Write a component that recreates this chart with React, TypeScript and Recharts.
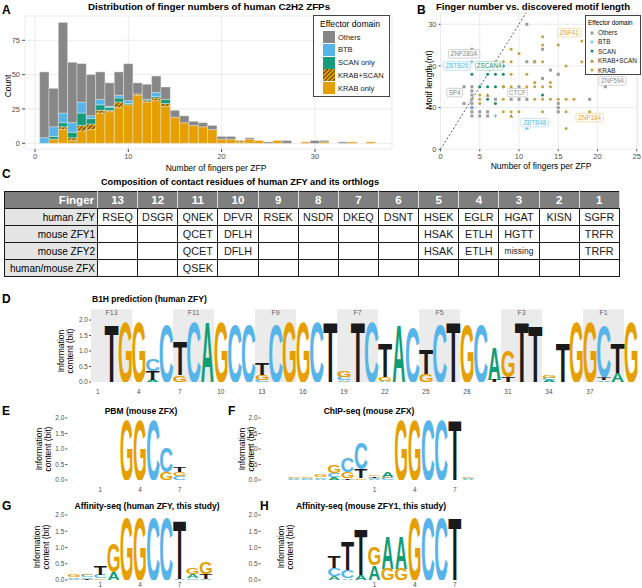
import React from 'react';
import {
  BarChart, Bar, XAxis, YAxis, CartesianGrid, ScatterChart, Scatter,
  ReferenceLine, ReferenceArea,
} from 'recharts';

const FONT = '"Liberation Sans", Arial, Helvetica, sans-serif';
const C_OTHERS = '#878787';
const C_BTB = '#56B4E9';
const C_SCAN = '#169C7B';
const C_KRAB = '#E69F00';
const AXIS_TXT = '#4D4D4D';

// ---------------- Panel A: finger-number histogram ----------------
const fingerNumbers = [1, 2, 3, 4, 5, 6, 7, 8, 9, 10, 11, 12, 13, 14, 15, 16, 17, 18, 19, 20, 21, 22, 23, 24, 25, 26, 27, 28, 29, 30, 31, 32, 33, 34, 35, 36];
const krabOnlyCounts = [0, 3, 10, 2, 9, 10, 22, 23, 26, 28, 35, 30, 31, 27, 19, 15, 13, 12, 10, 3, 3, 1, 3, 2, 0, 2, 0, 0, 1, 0, 1, 0, 0, 1, 0, 1];
const krabScanCounts = [0, 0, 2, 2, 4, 4, 2, 1, 4, 0, 1, 1, 2, 2, 0, 0, 0, 0, 0, 0, 0, 1, 0, 0, 0, 0, 0, 0, 0, 0, 0, 0, 0, 0, 0, 0];
const scanOnlyCounts = [0, 2, 3, 4, 9, 4, 4, 2, 3, 1, 0, 1, 1, 3, 0, 0, 0, 0, 0, 0, 0, 0, 0, 0, 0, 0, 0, 0, 0, 0, 0, 0, 0, 0, 0, 0];
const btbCounts = [4, 7, 7, 7, 8, 2, 4, 1, 2, 2, 0, 0, 3, 0, 0, 0, 0, 0, 0, 0, 0, 0, 0, 0, 0, 0, 0, 0, 0, 0, 0, 0, 0, 0, 0, 0];
const otherCounts = [48, 28, 66, 44, 28, 30, 20, 17, 17, 27, 8, 11, 12, 9, 5, 5, 3, 3, 3, 2, 2, 0, 1, 0, 1, 0, 2, 0, 0, 2, 1, 0, 1, 0, 0, 0];
const aXTicks = [0, 10, 20, 30];
const aYTicks = [0, 25, 50, 75];

// ---------------- Panel B: finger number vs motif length ----------------
const bOthers: [number, number][] = [[11, 30], [4, 24], [13, 24], [11, 21], [12, 21], [14, 19], [15, 18], [13, 17], [3, 15], [4, 15], [10, 15], [21, 15], [4, 14], [4, 13], [4, 12], [7, 12], [9, 12], [10, 12], [11, 12], [19, 12], [3, 11], [4, 11], [15, 11], [4, 10], [15, 10], [4, 9], [5, 9], [6, 9], [15, 9], [4, 8], [5, 8], [6, 8]];
const bBtb: [number, number][] = [[4, 21], [7, 8], [11, 5], [4, 10]];
const bScan: [number, number][] = [[4, 18], [6, 18], [7, 18], [8, 18], [5, 15], [6, 15], [7, 15], [8, 15], [8, 20], [6, 12], [7, 11], [13, 13]];
const bKrabScan: [number, number][] = [[6, 13], [9, 8]];
const bKrab: [number, number][] = [[13, 27], [13, 25], [15, 25], [18, 26], [9, 24], [10, 23], [7, 21], [8, 21], [9, 21], [12, 21], [13, 21], [18, 21], [16, 20], [9, 18], [11, 18], [12, 16], [14, 16], [8, 15], [9, 15], [11, 15], [12, 15], [13, 15], [14, 15], [5, 13], [5, 12], [5, 11], [8, 12], [12, 12], [13, 12], [14, 12], [15, 12], [16, 12], [17, 12], [8, 9], [9, 9], [10, 9], [13, 9], [16, 9], [19, 9], [16, 5]];
const bLabelNames = ['ZNF280A', 'ZBTB26', 'ZSCAN4', 'SP4', 'CTCF', 'ZBTB48', 'ZNF184', 'ZNF594', 'ZNF41'];
const bLabelCats = ['Others', 'BTB', 'SCAN', 'Others', 'Others', 'BTB', 'KRAB', 'Others', 'KRAB'];
const bLabelAnchors: [number, number][] = [[3.0, 22.9], [2.1, 20.0], [6.2, 20.0], [1.8, 13.6], [9.8, 13.6], [12.0, 6.4], [19.0, 7.6], [21.9, 16.4], [16.4, 28.0]];
const bXTicks = [0, 5, 10, 15, 20, 25];
const bYTicks = [0, 10, 20, 30];
const ntPerFinger = 3;

// ---------------- Panel C: table ----------------
const fingerIds = [13, 12, 11, 10, 9, 8, 7, 6, 5, 4, 3, 2, 1];
const rowNames = ['human ZFY', 'mouse ZFY1', 'mouse ZFY2', 'human/mouse ZFX'];
const humanZFY = ['RSEQ', 'DSGR', 'QNEK', 'DFVR', 'RSEK', 'NSDR', 'DKEQ', 'DSNT', 'HSEK', 'EGLR', 'HGAT', 'KISN', 'SGFR'];
const mouseZFY1 = ['', '', 'QCET', 'DFLH', '', '', '', '', 'HSAK', 'ETLH', 'HGTT', '', 'TRFR'];
const mouseZFY2 = ['', '', 'QCET', 'DFLH', '', '', '', '', 'HSAK', 'ETLH', 'missing', '', 'TRFR'];
const humanMouseZFX = ['', '', 'QSEK', '', '', '', '', '', '', '', '', '', ''];

// ---------------- Logos ----------------
type Stack = [string, number][];
const dPositions = [1, 2, 3, 4, 5, 6, 7, 8, 9, 10, 11, 12, 13, 14, 15, 16, 17, 18, 19, 20, 21, 22, 23, 24, 25, 26, 27, 28, 29, 30, 31, 32, 33, 34, 35, 36, 37, 38, 39, 40];
const dStacks: Stack[] = [
  [], [['T', 1.9]], [['G', 1.95]], [['G', 1.95]], [['A', 0.06], ['T', 0.28], ['C', 0.38]],
  [['C', 1.9]], [['G', 0.22], ['T', 1.1]], [['C', 1.95]], [['A', 1.95]], [['G', 1.95]],
  [['C', 1.9]], [['C', 1.9]], [['C', 0.07], ['G', 0.15], ['T', 0.4]], [['C', 1.9]], [['G', 1.95]],
  [['G', 1.95]], [['C', 1.95]], [['T', 1.95]], [['A', 0.05], ['C', 0.12], ['G', 0.22]], [['T', 1.95]],
  [['C', 1.95]], [['A', 0.04], ['G', 0.12], ['T', 1.1]], [['A', 1.9]], [['C', 1.78]], [['G', 0.25], ['T', 0.8]],
  [['C', 1.9]], [['T', 1.95]], [['G', 1.9]], [['C', 1.9]], [['T', 0.08], ['A', 1.05]],
  [['T', 0.15], ['G', 0.85]], [['T', 1.95]], [['T', 1.85]], [['A', 0.08], ['C', 0.06], ['G', 0.09]], [['T', 1.3]],
  [['G', 1.95]], [['G', 1.95]], [['A', 0.05], ['T', 0.1], ['C', 1.65]], [['A', 0.3], ['T', 1.0]], [['G', 1.95]],
];
const dTicks = [1, 4, 7, 10, 13, 16, 19, 22, 25, 28, 31, 34, 37];
const dBandStarts = [1, 7, 13, 19, 25, 31, 37];
const dBandEnds = [3, 9, 15, 21, 27, 33, 39];
const dBandLabels = ['F13', 'F11', 'F9', 'F7', 'F5', 'F3', 'F1'];

const egPositions = [-1, 0, 1, 2, 3, 4, 5, 6, 7, 8, 9];
const eStacks: Stack[] = [
  [], [], [], [], [['G', 1.95]], [['G', 1.95]], [['C', 1.95]], [['G', 0.27], ['C', 0.8]],
  [['C', 0.13], ['G', 0.12], ['T', 0.15]], [], [],
];
const gStacks: Stack[] = [
  [['A', 0.04], ['C', 0.05], ['G', 0.07]], [['T', 0.03], ['A', 0.05], ['C', 0.07], ['G', 0.05]],
  [['G', 0.05], ['C', 0.1], ['T', 0.3]], [['A', 0.25], ['G', 0.88]], [['G', 1.95]], [['G', 1.95]],
  [['C', 1.95]], [['C', 1.95]], [['A', 0.03], ['T', 1.85]], [['C', 0.05], ['A', 0.12], ['G', 0.21]],
  [['A', 0.04], ['T', 0.14], ['G', 0.36]],
];
const fhPositions = [-7, -6, -5, -4, -3, -2, -1, 0, 1, 2, 3, 4, 5, 6, 7, 8];
const fStacks: Stack[] = [
  [], [], [['C', 0.04], ['A', 0.04], ['G', 0.05]], [['C', 0.04], ['A', 0.03], ['G', 0.05]],
  [['A', 0.04], ['C', 0.05], ['G', 0.08]], [['A', 0.1], ['C', 0.12], ['G', 0.26]],
  [['T', 0.05], ['G', 0.22], ['C', 0.48]], [['G', 0.05], ['T', 0.3], ['C', 0.84]],
  [['A', 0.04], ['C', 0.04], ['T', 0.04], ['G', 0.04]], [['C', 0.06], ['G', 0.05], ['A', 0.17]],
  [['G', 1.95]], [['G', 1.95]], [['C', 1.95]], [['C', 1.95]], [['T', 1.95]],
  [['A', 0.03], ['C', 0.04], ['G', 0.05]],
];
const hStacks: Stack[] = [
  [], [], [], [], [], [['A', 0.12], ['C', 0.25], ['T', 0.35]], [['A', 0.05], ['C', 0.25], ['T', 0.9]],
  [['A', 0.15], ['T', 1.42]], [['A', 0.45], ['G', 0.58]], [['G', 0.35], ['A', 1.03]],
  [['G', 0.35], ['A', 1.03]], [['G', 1.98]], [['C', 1.98]], [['C', 1.98]], [['T', 1.98]], [],
];
const smallTicks = [1, 4, 7];
const bitTicks = [0, 0.5, 1, 1.5, 2];

const LETTER_COLORS: Record<string, string> = { A: '#109E76', C: '#56B4E9', G: '#E69F00', T: '#1A1A1A' };
const INK: Record<string, [number, number]> = { A: [0.0, 1.0], C: [0.06, 0.88], G: [0.055, 0.885], T: [0.035, 0.93] };
const CAP = 0.716;

function letterShape(k: number) {
  return (props: any) => {
    const { x, y, width, height, payload } = props;
    const L = payload ? payload['l' + k] : '';
    if (!L || !height || height < 0.15) return <g />;
    const pad = width * 0.03;
    const w = width - 2 * pad;
    const [off, frac] = INK[L];
    const adv = w / frac;
    const fs = 10;
    const sy = height / (fs * CAP);
    return (
      <g transform={`translate(${x + pad - off * adv},${y + height}) scale(1,${sy})`}>
        <text x={0} y={0} fontSize={fs} fontFamily={FONT} fontWeight={700}
          fill={LETTER_COLORS[L]} textLength={adv} lengthAdjust="spacingAndGlyphs">{L}</text>
      </g>
    );
  };
}

function buildRows(positions: number[], stacks: Stack[]) {
  return positions.map((pos, i) => {
    const row: any = { pos };
    const st = stacks[i] || [];
    for (let k = 0; k < 4; k++) {
      row['h' + k] = st[k] ? st[k][1] : 0;
      row['l' + k] = st[k] ? st[k][0] : '';
    }
    return row;
  });
}

function Logo(p: any) {
  const { positions, stacks, left, top, width, height, margin, yMax, xTicks, xHeight, xTickSize = 6, bands } = p;
  const rows = buildRows(positions, stacks);
  return (
    <div style={{ position: 'absolute', left, top }}>
      <BarChart width={width} height={height} data={rows} margin={margin} barCategoryGap={0} barGap={0}>
        {bands ? bands.map((b: any) => (
          <ReferenceArea key={b.label} x1={b.from} x2={b.to} y1={0} y2={yMax} fill="#EBEBEB" fillOpacity={1}
            stroke="none" ifOverflow="visible"
            label={{ value: b.label, position: 'insideTop', fontSize: 7, fill: '#666', fontFamily: FONT, offset: 1 }} />
        )) : null}
        <XAxis dataKey="pos" type="category" ticks={xTicks} interval={0} axisLine={false} tickLine={false}
          height={xHeight} tickSize={xTickSize} tickMargin={1} tick={{ fontSize: 6.5, fill: AXIS_TXT, fontFamily: FONT }} />
        <YAxis type="number" domain={[0, yMax]} ticks={bitTicks} allowDataOverflow width={18}
          tickFormatter={(v: number) => v.toFixed(1)} axisLine={false} tickSize={2} tickMargin={1}
          tickLine={{ stroke: AXIS_TXT }} tick={{ fontSize: 6.5, fill: AXIS_TXT, fontFamily: FONT }} />
        {[0, 1, 2, 3].map((k) => (
          <Bar key={k} dataKey={'h' + k} stackId="s" shape={letterShape(k)} isAnimationActive={false} />
        ))}
      </BarChart>
    </div>
  );
}

function Txt(p: any) {
  const { x, y, s = 8.5, b = false, a = 'middle', c = '#000', r = 0, children, lh = 1 } = p;
  const tx = a === 'middle' ? '-50%' : a === 'end' ? '-100%' : '0';
  return (
    <div style={{
      position: 'absolute', left: x, top: y, fontSize: s, fontWeight: b ? 700 : 400, color: c,
      whiteSpace: 'pre', lineHeight: lh, textAlign: 'center',
      transform: `translate(${tx},-50%)${r ? ` rotate(${r}deg)` : ''}`,
    }}>{children}</div>
  );
}

const sqShape = (p: any) => <rect x={p.cx - 1.5} y={p.cy - 1.5} width={3} height={3} fill="#9B9B9B" />;
const plusShape = (p: any) => <path d={`M${p.cx - 2},${p.cy}H${p.cx + 2}M${p.cx},${p.cy - 2}V${p.cy + 2}`} stroke={C_BTB} strokeWidth={0.8} />;
const scanShape = (p: any) => <circle cx={p.cx} cy={p.cy} r={1.5} fill="#1B8A6B" />;
const triShape = (p: any) => <path d={`M${p.cx},${p.cy - 2}L${p.cx + 2},${p.cy + 1.6}L${p.cx - 2},${p.cy + 1.6}Z`} fill="#B5873A" />;
const krabShape = (p: any) => <circle cx={p.cx} cy={p.cy} r={1.5} fill="#C9A03E" />;

const CAT_TEXT: Record<string, string> = { Others: '#8A8A8A', BTB: '#56B4E9', SCAN: '#178A6C', KRAB: '#E0A030' };
const CAT_BORDER: Record<string, string> = { Others: '#BDBDBD', BTB: '#A9D6F2', SCAN: '#8CCBB8', KRAB: '#F0CF8A' };
const labelShape = (p: any) => {
  const { cx, cy, payload } = p;
  const w = payload.name.length * 3.9 + 4;
  const h = 8.5;
  return (
    <g>
      <rect x={cx - w / 2} y={cy - h / 2} width={w} height={h} rx={1.5} fill="#fff" stroke={CAT_BORDER[payload.cat]} strokeWidth={0.7} />
      <text x={cx} y={cy + 2.3} textAnchor="middle" fontSize={6.3} fill={CAT_TEXT[payload.cat]} fontFamily={FONT}>{payload.name}</text>
    </g>
  );
};

const toPts = (arr: [number, number][]) => arr.map(([x, y]) => ({ x, y }));

function PanelA() {
  const rows = fingerNumbers.map((x, i) => ({
    x, krab: krabOnlyCounts[i], krabScan: krabScanCounts[i], scan: scanOnlyCounts[i], btb: btbCounts[i], others: otherCounts[i],
  }));
  const barProps = { stackId: 'a', barSize: 9.3, stroke: '#EDEDED', strokeWidth: 0.4, isAnimationActive: false };
  return (
    <div style={{ position: 'absolute', left: 0, top: 0 }}>
      <BarChart width={400} height={175} data={rows} margin={{ top: 16, right: 8, bottom: 6, left: 0 }} barCategoryGap={0} barGap={0}>
        <defs>
          <pattern id="hatchKS" patternUnits="userSpaceOnUse" width={3} height={3} patternTransform="rotate(45)">
            <rect width={3} height={3} fill={C_KRAB} />
            <line x1={0} y1={0} x2={0} y2={3} stroke="#000" strokeWidth={1.3} />
          </pattern>
        </defs>
        <CartesianGrid stroke="#EBEBEB" />
        <XAxis type="number" dataKey="x" domain={[-1.07, 38.26]} ticks={aXTicks} allowDataOverflow height={20}
          tickSize={3} axisLine={false} tickLine={{ stroke: AXIS_TXT }} tick={{ fontSize: 7.5, fill: AXIS_TXT, fontFamily: FONT }} />
        <YAxis type="number" domain={[-4.15, 92.7]} ticks={aYTicks} allowDataOverflow width={25}
          tickSize={3} axisLine={false} tickLine={{ stroke: AXIS_TXT }} tick={{ fontSize: 7.5, fill: AXIS_TXT, fontFamily: FONT }} />
        <Bar dataKey="krab" fill={C_KRAB} {...barProps} />
        <Bar dataKey="krabScan" fill="url(#hatchKS)" {...barProps} />
        <Bar dataKey="scan" fill={C_SCAN} {...barProps} />
        <Bar dataKey="btb" fill={C_BTB} {...barProps} />
        <Bar dataKey="others" fill={C_OTHERS} {...barProps} />
      </BarChart>
    </div>
  );
}

function PanelB() {
  const labels = bLabelNames.map((name, i) => ({ name, cat: bLabelCats[i], x: bLabelAnchors[i][0], y: bLabelAnchors[i][1] }));
  const yTop = 32.7;
  return (
    <div style={{ position: 'absolute', left: 420, top: 0 }}>
      <ScatterChart width={222} height={175} margin={{ top: 13, right: 4, bottom: 5.7, left: 4.5 }}>
        <CartesianGrid stroke="#EBEBEB" />
        <XAxis type="number" dataKey="x" domain={[0, 25.16]} ticks={bXTicks} allowDataOverflow height={20}
          tickSize={2} axisLine={false} tickLine={{ stroke: AXIS_TXT }} tick={{ fontSize: 7.5, fill: AXIS_TXT, fontFamily: FONT }} />
        <YAxis type="number" dataKey="y" domain={[0, yTop]} ticks={bYTicks} allowDataOverflow width={16}
          tickSize={2} axisLine={false} tickLine={{ stroke: AXIS_TXT }} tick={{ fontSize: 7.5, fill: AXIS_TXT, fontFamily: FONT }} />
        <ReferenceLine segment={[{ x: 0, y: 0 }, { x: yTop / ntPerFinger, y: yTop }]} stroke="#333" strokeDasharray="2 2" strokeWidth={0.8} />
        <Scatter data={toPts(bOthers)} shape={sqShape} isAnimationActive={false} />
        <Scatter data={toPts(bBtb)} shape={plusShape} isAnimationActive={false} />
        <Scatter data={toPts(bScan)} shape={scanShape} isAnimationActive={false} />
        <Scatter data={toPts(bKrabScan)} shape={triShape} isAnimationActive={false} />
        <Scatter data={toPts(bKrab)} shape={krabShape} isAnimationActive={false} />
        <Scatter data={labels} shape={labelShape} isAnimationActive={false} />
      </ScatterChart>
    </div>
  );
}

function LegendA() {
  const items: [string, string][] = [['Others', C_OTHERS], ['BTB', C_BTB], ['SCAN only', C_SCAN], ['KRAB+SCAN', 'hatch'], ['KRAB only', C_KRAB]];
  return (
    <div style={{ position: 'absolute', left: 313, top: 15, width: 77, height: 82, border: '1px solid #444', background: '#fff', boxSizing: 'border-box' }}>
      <div style={{ position: 'absolute', left: 6, top: 3, fontSize: 8.6 }}>Effector domain</div>
      {items.map(([name, col], i) => (
        <div key={name} style={{ position: 'absolute', left: 9, top: 15 + i * 12.8, height: 12, display: 'flex', alignItems: 'center' }}>
          <svg width={12} height={12} style={{ display: 'block' }}>
            <defs>
              <pattern id={'hl' + i} patternUnits="userSpaceOnUse" width={3} height={3} patternTransform="rotate(45)">
                <rect width={3} height={3} fill={C_KRAB} />
                <line x1={0} y1={0} x2={0} y2={3} stroke="#000" strokeWidth={1.3} />
              </pattern>
            </defs>
            <rect x={0} y={0} width={12} height={12} fill={col === 'hatch' ? `url(#hl${i})` : col} />
          </svg>
          <span style={{ fontSize: 7.5, marginLeft: 3, color: '#1a1a1a' }}>{name}</span>
        </div>
      ))}
    </div>
  );
}

function LegendB() {
  const items = ['Others', 'BTB', 'SCAN', 'KRAB+SCAN', 'KRAB'];
  const shapes = [sqShape, plusShape, scanShape, triShape, krabShape];
  return (
    <div style={{ position: 'absolute', left: 585, top: 15, width: 56, height: 60, border: '1px solid #444', background: '#fff', boxSizing: 'border-box' }}>
      <div style={{ position: 'absolute', left: 2, top: 3, fontSize: 6.4 }}>Effector domain</div>
      {items.map((name, i) => (
        <div key={name} style={{ position: 'absolute', left: 2, top: 12 + i * 9.4, height: 9, display: 'flex', alignItems: 'center' }}>
          <svg width={8} height={8} style={{ display: 'block' }}>{shapes[i]({ cx: 4, cy: 4 })}</svg>
          <span style={{ fontSize: 6.4, marginLeft: 2, color: '#1a1a1a' }}>{name}</span>
        </div>
      ))}
    </div>
  );
}

function PanelC() {
  const rows = [humanZFY, mouseZFY1, mouseZFY2, humanMouseZFX];
  const bd = '1px solid #1a1a1a';
  return (
    <div style={{ position: 'absolute', left: 4, top: 191 }}>
      <table style={{ borderCollapse: 'collapse', width: 615, tableLayout: 'fixed', fontFamily: FONT }}>
        <colgroup>
          <col style={{ width: 93 }} />
          {fingerIds.map((f) => <col key={f} style={{ width: 40.15 }} />)}
        </colgroup>
        <tbody>
          <tr style={{ height: 17 }}>
            <th style={{ background: '#7F7F7F', color: '#fff', fontSize: 11.5, textAlign: 'right', padding: '0 3px 0 0', border: bd, borderRight: '1px solid #ddd' }}>Finger</th>
            {fingerIds.map((f) => (
              <th key={f} style={{ background: '#7F7F7F', color: '#fff', fontSize: 11.5, padding: 0, borderTop: bd, borderBottom: bd, borderLeft: '1px solid #ddd', borderRight: '1px solid #ddd' }}>{f}</th>
            ))}
          </tr>
          {rows.map((r, ri) => (
            <tr key={ri} style={{ height: 17 }}>
              <td style={{ background: '#E5E5E5', fontSize: 10, textAlign: 'right', border: bd, whiteSpace: 'nowrap', padding: '0 2px 0 0' }}>{rowNames[ri]}</td>
              {r.map((v, ci) => (
                <td key={ci} style={{ border: bd, textAlign: 'center', padding: 0, fontSize: v === 'missing' ? 8.5 : 10.8, color: '#1a1a1a' }}>{v}</td>
              ))}
            </tr>
          ))}
        </tbody>
      </table>
    </div>
  );
}

export default function App() {
  const bands = dBandStarts.map((s, i) => ({ from: s, to: dBandEnds[i], label: dBandLabels[i] }));
  const infoTitle = 'Information\ncontent (bit)';
  return (
    <div style={{ position: 'relative', width: 642, height: 588, fontFamily: FONT, background: '#fff', overflow: 'hidden' }}>
      <style>{'body{margin:0}'}</style>
      <PanelA />
      <LegendA />
      <PanelB />
      <LegendB />
      <PanelC />

      <Logo positions={dPositions} stacks={dStacks} left={0} top={295} width={642} height={108}
        margin={{ top: 14.2, right: 4.2, bottom: 9, left: 73 }} yMax={2.35} xTicks={dTicks} xHeight={12} bands={bands} />
      <Logo positions={egPositions} stacks={eStacks} left={0} top={400} width={225} height={100}
        margin={{ top: 18, right: 12.4, bottom: 8, left: 49.4 }} yMax={2} xTicks={smallTicks} xHeight={12} />
      <Logo positions={fhPositions} stacks={fStacks} left={225} top={400} width={260} height={100}
        margin={{ top: 18, right: 10, bottom: 8, left: 17.6 }} yMax={2} xTicks={smallTicks} xHeight={12} />
      <Logo positions={egPositions} stacks={gStacks} left={0} top={496} width={225} height={92}
        margin={{ top: 19, right: 12.4, bottom: 0, left: 49.4 }} yMax={2} xTicks={smallTicks} xHeight={8} xTickSize={1} />
      <Logo positions={fhPositions} stacks={hStacks} left={225} top={496} width={260} height={92}
        margin={{ top: 19, right: 10, bottom: 0, left: 17.6 }} yMax={2} xTicks={smallTicks} xHeight={8} xTickSize={1} />

      <Txt x={2} y={10} s={12} b a="start">A</Txt>
      <Txt x={209} y={7} s={9.8} b>Distribution of finger numbers of human C2H2 ZFPs</Txt>
      <Txt x={8} y={86} s={8.5} r={-90}>Count</Txt>
      <Txt x={216} y={168} s={8.5}>Number of fingers per ZFP</Txt>

      <Txt x={417} y={10} s={12} b a="start">B</Txt>
      <Txt x={533} y={7} s={9.6} b>Finger number vs. discovered motif length</Txt>
      <Txt x={429} y={80} s={8.5} r={-90}>Motif length (nt)</Txt>
      <Txt x={541} y={166} s={8.5}>Number of fingers per ZFP</Txt>

      <Txt x={2} y={174} s={12} b a="start">C</Txt>
      <Txt x={240} y={183} s={9.2} b>Composition of contact residues of human ZFY and its orthlogs</Txt>

      <Txt x={2} y={299} s={12} b a="start">D</Txt>
      <Txt x={92} y={299} s={8.5} b a="start">B1H prediction (human ZFY)</Txt>
      <Txt x={66} y={351} s={8.5} r={-90} lh={1.1}>{infoTitle}</Txt>

      <Txt x={2} y={411} s={12} b a="start">E</Txt>
      <Txt x={141} y={411} s={8.5} b>PBM (mouse ZFX)</Txt>
      <Txt x={44} y={449} s={8.5} r={-90} lh={1.1}>{infoTitle}</Txt>

      <Txt x={228} y={411} s={12} b a="start">F</Txt>
      <Txt x={369} y={411} s={8.5} b>ChIP-seq (mouse ZFX)</Txt>
      <Txt x={247} y={449} s={8.5} r={-90} lh={1.1}>{infoTitle}</Txt>

      <Txt x={2} y={506} s={12} b a="start">G</Txt>
      <Txt x={147} y={506} s={8.5} b>Affinity-seq (human ZFY, this study)</Txt>
      <Txt x={42} y={547} s={8.5} r={-90} lh={1.1}>{infoTitle}</Txt>

      <Txt x={260} y={506} s={12} b a="start">H</Txt>
      <Txt x={371} y={506} s={8.5} b>Affinity-seq (mouse ZFY1, this study)</Txt>
      <Txt x={286} y={547} s={8.5} r={-90} lh={1.1}>{infoTitle}</Txt>
    </div>
  );
}
